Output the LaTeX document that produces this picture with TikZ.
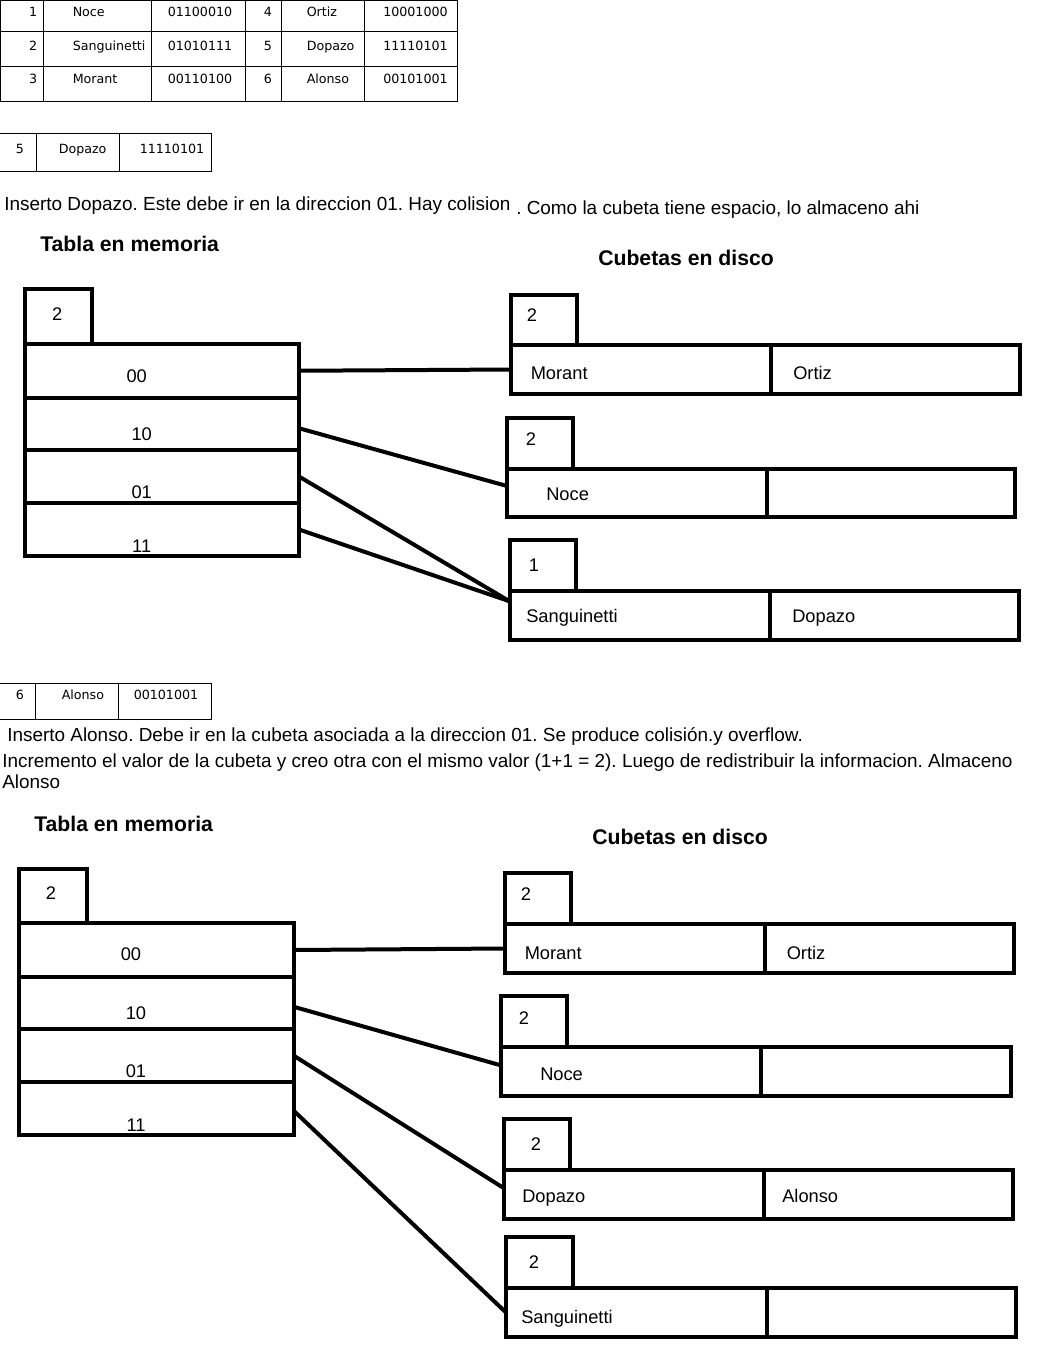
\documentclass[tikz,border=0pt]{standalone}
\usepackage{fontspec}
\setmainfont{Liberation Sans}
\newfontfamily\tabfont{DejaVu Sans}
\usetikzlibrary{calc,fit}
\frenchspacing

\begin{document}
\begin{tikzpicture}[x=0.75pt,y=0.75pt,yscale=-1,xscale=1,
  cellbox/.style={draw, line width=3pt, inner sep=0pt, outer sep=0pt},
  conn/.style={line width=3pt},
  tabline/.style={line width=0.75pt},
  tabtext/.style={inner sep=0pt, font=\tabfont\fontsize{9.5}{11}\selectfont},
  txt/.style={anchor=base west, inner sep=0pt, font=\fontsize{14.2}{17}\selectfont},
  ttl/.style={anchor=base west, inner sep=0pt, font=\fontsize{15.9}{18}\selectfont\bfseries},
  lbl/.style={inner sep=0pt, font=\fontsize{13.7}{16}\selectfont}]
\useasboundingbox (0,0) rectangle (1056,1368);
%Table: registros
\draw[tabline] (0.5,0.5) -- (457,0.5) -- (457,101) -- (0.5,101) -- cycle ;
\draw[tabline] (0.5,31) -- (457,31) (0.5,66) -- (457,66) ;
\draw[tabline] (43,0.5) -- (43,101) (151,0.5) -- (151,101) (245,0.5) -- (245,101) (281,0.5) -- (281,101) (364,0.5) -- (364,101) ;
% Text Node
\node[tabtext, anchor=base east] (r1n) at (37.5,16) {1};
\node[tabtext, anchor=base west] (r1a) at (72.5,16) {Noce};
\node[tabtext, anchor=base west] (r1b) at (167.5,16) {01100010};
\node[tabtext, anchor=base] (r4n) at (268,16) {4};
\node[tabtext, anchor=base west] (r4a) at (306.5,16) {Ortiz};
\node[tabtext, anchor=base west] (r4b) at (383,16) {10001000};
\node[tabtext, anchor=base east] (r2n) at (37.5,50) {2};
\node[tabtext, anchor=base west] (r2a) at (72.5,50) {Sanguinetti};
\node[tabtext, anchor=base west] (r2b) at (167.5,50) {01010111};
\node[tabtext, anchor=base] (r5n) at (268,50) {5};
\node[tabtext, anchor=base west] (r5a) at (306.5,50) {Dopazo};
\node[tabtext, anchor=base west] (r5b) at (383,50) {11110101};
\node[tabtext, anchor=base east] (r3n) at (37.5,83.5) {3};
\node[tabtext, anchor=base west] (r3a) at (72.5,83.5) {Morant};
\node[tabtext, anchor=base west] (r3b) at (167.5,83.5) {00110100};
\node[tabtext, anchor=base] (r6n) at (268,83.5) {6};
\node[tabtext, anchor=base west] (r6a) at (306.5,83.5) {Alonso};
\node[tabtext, anchor=base west] (r6b) at (383,83.5) {00101001};
%Table: Dopazo
\draw[tabline] (0,133) -- (211,133) -- (211,171) -- (0,171) ;
\draw[tabline] (36,133) -- (36,171) (119,133) -- (119,171) ;
% Text Node
\node[tabtext, anchor=base] (i5n) at (20,153) {5};
\node[tabtext, anchor=base west] (i5a) at (58.5,153) {Dopazo};
\node[tabtext, anchor=base west] (i5b) at (139.5,153) {11110101};
% Text Node
\node[txt] (ins1a) at (4,210) {Inserto Dopazo. Este debe ir en la direccion 01. Hay colision};
\node[txt] (ins1b) at (516,214) {. Como la cubeta tiene espacio, lo almaceno ahi};
\node[ttl] (tm1) at (40,251.7) {Tabla en memoria};
\node[ttl] (cd1) at (598,265) {Cubetas en disco};

%Shape: tabla en memoria 1
\node[lbl, anchor=base] (m1d-t) at (57.3,320.7) {2};
\node[lbl, anchor=base] (m1r00-t) at (136.7,382) {00};
\node[lbl, anchor=base] (m1r10-t) at (141.7,440.5) {10};
\node[lbl, anchor=base] (m1r01-t) at (141.7,498) {01};
\node[lbl, anchor=base] (m1r11-t) at (141.7,552.5) {11};
\node[cellbox, fit={(25,289) (92,344)}] (m1d) {};
\node[cellbox, fit={(25,344) (299,397.5)}] (m1r00) {};
\node[cellbox, fit={(25,397.5) (299,450)}] (m1r10) {};
\node[cellbox, fit={(25,450) (299,503)}] (m1r01) {};
\node[cellbox, fit={(25,503) (299,556)}] (m1r11) {};
%Shape: cubetas 1
\node[cellbox, fit={(511,295) (576.5,345)}] (b1ad) {};
\node[cellbox, fit={(511,345) (771,394)}] (b1al) {};
\node[cellbox, fit={(771,345) (1019.5,394)}] (b1ar) {};
\node[lbl, anchor=base] (b1ad-t) at (532,321.7) {2};
\node[lbl, anchor=base west] (b1al-t) at (530.5,379.3) {Morant};
\node[lbl, anchor=base west] (b1ar-t) at (793,379.3) {Ortiz};
\node[cellbox, fit={(507,418) (572.5,469)}] (b1bd) {};
\node[cellbox, fit={(507,469) (766.5,517)}] (b1bl) {};
\node[cellbox, fit={(766.5,469) (1015,517)}] (b1br) {};
\node[lbl, anchor=base] (b1bd-t) at (531,445) {2};
\node[lbl, anchor=base west] (b1bl-t) at (546,500.7) {Noce};
\node[cellbox, fit={(509.5,540) (576,591)}] (b1cd) {};
\node[cellbox, fit={(509.5,591) (770,639.5)}] (b1cl) {};
\node[cellbox, fit={(770,591) (1019,639.5)}] (b1cr) {};
\node[lbl, anchor=base] (b1cd-t) at (534,571.7) {1};
\node[lbl, anchor=base west] (b1cl-t) at (526,622.7) {Sanguinetti};
\node[lbl, anchor=base west] (b1cr-t) at (792,622.7) {Dopazo};
%Straight Lines
\draw[conn] (m1r00.east) -- (b1al.west) ;
\draw[conn] ($(m1r10.east)+(0,4.5)$) -- ($(b1bl.west)+(0,-7)$) ;
\draw[conn] (m1r01.east) -- ($(b1cl.west)+(0,-14)$) ;
\draw[conn] (m1r11.east) -- ($(b1cl.west)+(0,-14)$) ;

%Table: Alonso
\draw[tabline] (0,683) -- (211,683) -- (211,719) -- (0,719) ;
\draw[tabline] (35,683) -- (35,719) (118,683) -- (118,719) ;
% Text Node
\node[tabtext, anchor=base] (i6n) at (20,699) {6};
\node[tabtext, anchor=base west] (i6a) at (61.5,699) {Alonso};
\node[tabtext, anchor=base west] (i6b) at (133.5,699) {00101001};
% Text Node
\node[txt] (ins2a) at (7,741) {Inserto Alonso. Debe ir en la cubeta asociada a la direccion 01. Se produce colisión.y overflow.};
\node[txt] (ins2b) at (2,767) {Incremento el valor de la cubeta y creo otra con el mismo valor (1+1 = 2). Luego de redistribuir la informacion. Almaceno};
\node[txt] (ins2c) at (2,788) {Alonso};
\node[ttl] (tm2) at (34,831) {Tabla en memoria};
\node[ttl] (cd2) at (592,844) {Cubetas en disco};

%Shape: tabla en memoria 2
\node[lbl, anchor=base] (m2d-t) at (51,899.3) {2};
\node[lbl, anchor=base] (m2r00-t) at (131,960.7) {00};
\node[lbl, anchor=base] (m2r10-t) at (136,1019.3) {10};
\node[lbl, anchor=base] (m2r01-t) at (136,1077) {01};
\node[lbl, anchor=base] (m2r11-t) at (136,1131.7) {11};
\node[cellbox, fit={(19,868.5) (87,923)}] (m2d) {};
\node[cellbox, fit={(19,923) (293.5,977)}] (m2r00) {};
\node[cellbox, fit={(19,977) (293.5,1029)}] (m2r10) {};
\node[cellbox, fit={(19,1029) (293.5,1082)}] (m2r01) {};
\node[cellbox, fit={(19,1082) (293.5,1135)}] (m2r11) {};
%Shape: cubetas 2
\node[cellbox, fit={(504.5,873) (570.5,924)}] (b2ad) {};
\node[cellbox, fit={(504.5,924) (765,973)}] (b2al) {};
\node[cellbox, fit={(765,924) (1014,973)}] (b2ar) {};
\node[lbl, anchor=base] (b2ad-t) at (526,900.7) {2};
\node[lbl, anchor=base west] (b2al-t) at (524.5,959) {Morant};
\node[lbl, anchor=base west] (b2ar-t) at (786.5,959) {Ortiz};
\node[cellbox, fit={(500.5,996) (566.5,1046.5)}] (b2bd) {};
\node[cellbox, fit={(500.5,1046.5) (761,1096)}] (b2bl) {};
\node[cellbox, fit={(761,1046.5) (1010.5,1096)}] (b2br) {};
\node[lbl, anchor=base] (b2bd-t) at (524,1024) {2};
\node[lbl, anchor=base west] (b2bl-t) at (540,1080.7) {Noce};
\node[cellbox, fit={(504,1118.5) (570,1169.5)}] (b2cd) {};
\node[cellbox, fit={(504,1169.5) (764,1219)}] (b2cl) {};
\node[cellbox, fit={(764,1169.5) (1013,1219)}] (b2cr) {};
\node[lbl, anchor=base] (b2cd-t) at (536,1150.7) {2};
\node[lbl, anchor=base west] (b2cl-t) at (522,1202.7) {Dopazo};
\node[lbl, anchor=base west] (b2cr-t) at (782,1202.7) {Alonso};
\node[cellbox, fit={(506,1236.5) (572.5,1288)}] (b2dd) {};
\node[cellbox, fit={(506,1288) (766.5,1337)}] (b2dl) {};
\node[cellbox, fit={(766.5,1288) (1016,1337)}] (b2dr) {};
\node[lbl, anchor=base] (b2dd-t) at (534,1268) {2};
\node[lbl, anchor=base west] (b2dl-t) at (521,1323) {Sanguinetti};
%Straight Lines
\draw[conn] (m2r00.east) -- (b2al.west) ;
\draw[conn] ($(m2r10.east)+(0,3.7)$) -- ($(b2bl.west)+(0,-6)$) ;
\draw[conn] (m2r01.east) -- ($(b2cl.west)+(0,-6)$) ;
\draw[conn] ($(m2r11.east)+(0,2)$) -- (b2dl.west) ;
\end{tikzpicture}
\end{document}
